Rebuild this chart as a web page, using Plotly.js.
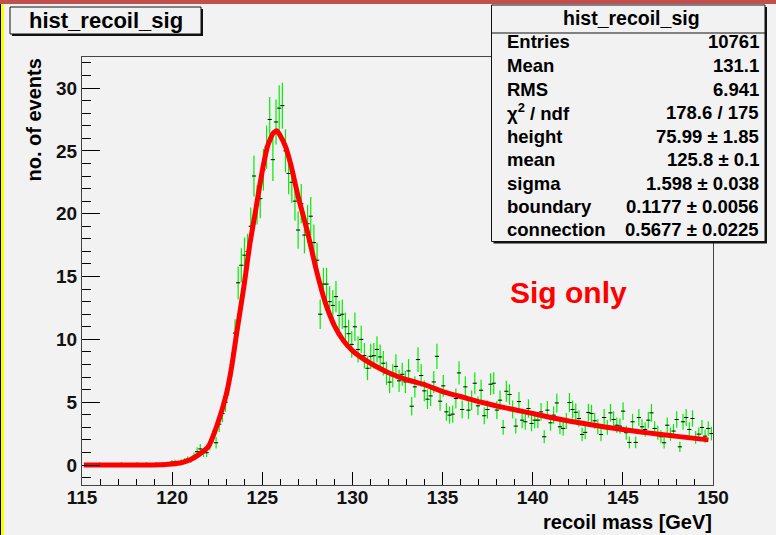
<!DOCTYPE html>
<html>
<head>
<meta charset="utf-8">
<script src="https://cdn.plot.ly/plotly-3.0.1.min.js"></script>
<style>
html,body{margin:0;padding:0;background:#f2f2f2;}
#chart{width:776px;height:535px;}
</style>
</head>
<body>
<div id="chart"></div>
<script>
// ---- histogram: 200 bins, 115..150 GeV ----
const histLow = 115;
const binWidth = 0.175;
const binContent = [
  null,null,null,null,null,0.12,null,null,null,null,
  null,null,0.12,null,null,null,null,0.12,null,null,
  0.12,null,null,0.12,null,0.12,null,0.12,0.23,0.24,
  0.12,0.26,0.35,0.47,0.37,0.7,1.06,1.28,0.98,0.98,
  1.6,2.25,1.77,3.25,4.1,5.0,6.4,8.0,10.5,14.5,
  15.9,16.7,17.0,19.0,23.0,20.7,21.2,23.5,25.3,27.5,
  24.3,27.3,28.4,28.6,25.0,23.2,22.5,21.0,18.7,20.8,
  18.3,19.2,19.8,17.7,16.3,12.0,14.4,14.4,13.0,12.7,
  13.4,11.9,12.0,11.0,10.45,9.6,11.0,9.2,10.0,8.7,
  7.7,8.65,8.7,9.2,8.6,8.1,7.3,6.6,7.1,7.85,
  6.7,7.22,6.61,7.49,4.68,6.22,8.39,7.12,5.90,5.24,
  5.50,6.61,8.65,5.08,6.30,4.23,3.97,4.05,5.29,7.33,
  4.42,6.22,4.37,5.16,6.51,4.71,5.95,3.92,4.42,6.43,
  6.51,4.37,5.16,2.99,5.87,5.61,4.42,3.10,5.05,3.57,
  3.44,4.50,3.31,3.57,3.57,4.23,2.25,4.37,3.36,3.97,
  4.94,3.04,2.91,3.5,4.97,4.42,4.2,3.7,2.43,2.6,
  4.18,4.10,3.52,3.04,2.43,3.78,3.0,4.15,3.62,3.17,
  3.1,4.29,2.57,1.80,3.44,1.80,3.78,3.04,2.83,3.57,
  4.15,2.91,2.57,2.25,1.77,3.17,2.46,2.7,3.62,1.45,
  3.44,3.78,2.83,3.70,2.2,2.46,2.99,2.30,2.91,2.5
];
const binError = [
  null,null,null,null,null,0.12,null,null,null,null,
  null,null,0.12,null,null,null,null,0.12,null,null,
  0.12,null,null,0.12,null,0.12,null,0.12,0.16,0.17,
  0.12,0.17,0.2,0.23,0.21,0.29,0.35,0.39,0.34,0.34,
  0.43,0.51,0.46,0.62,0.69,0.76,0.87,0.97,1.11,1.30,
  1.36,1.40,1.41,1.49,1.64,1.56,1.57,1.66,1.72,1.79,
  1.69,1.79,1.82,1.83,1.71,1.65,1.62,1.57,1.48,1.56,
  1.46,1.50,1.52,1.44,1.38,1.18,1.30,1.30,1.23,1.22,
  1.25,1.18,1.18,1.13,1.11,1.06,1.13,1.04,1.08,1.01,
  0.95,1.01,1.01,1.04,1.00,0.97,0.92,0.88,0.91,0.96,
  0.89,0.92,0.88,0.94,0.74,0.85,0.99,0.91,0.83,0.78,
  0.80,0.88,1.01,0.77,0.86,0.70,0.68,0.69,0.79,0.93,
  0.72,0.85,0.72,0.78,0.87,0.74,0.83,0.68,0.72,0.87,
  0.87,0.72,0.78,0.59,0.83,0.81,0.72,0.60,0.77,0.65,
  0.63,0.73,0.62,0.65,0.65,0.70,0.51,0.72,0.63,0.68,
  0.76,0.60,0.58,0.64,0.76,0.72,0.70,0.66,0.53,0.55,
  0.70,0.69,0.64,0.60,0.53,0.67,0.59,0.70,0.65,0.61,
  0.60,0.71,0.55,0.46,0.63,0.46,0.67,0.60,0.58,0.65,
  0.70,0.58,0.55,0.51,0.46,0.61,0.53,0.56,0.65,0.41,
  0.63,0.67,0.58,0.66,0.51,0.53,0.59,0.52,0.58,0.54
];

// ---- fit curve ----
const fitX = [115.1,116,117,118,119,119.5,120,120.5,121,121.5,122,122.5,123,123.3,123.6,124,124.3,124.6,125,125.3,125.6,125.8,126,126.3,126.6,127,127.5,128,128.5,129,129.5,130,130.5,131,132,133,134,135,136,137,138,139,140,141,142,143,144,145,146,147,148,149,149.75];
const fitY = [0,0,0,0,0.01,0.03,0.08,0.18,0.42,0.85,1.45,3.2,5.6,7.8,10.7,14.4,17.5,20.0,23.4,25.4,26.4,26.6,26.2,25.3,23.8,21.3,18.6,15.5,12.9,11.1,9.9,9.1,8.55,8.1,7.35,6.8,6.4,5.85,5.45,5.05,4.7,4.4,4.1,3.78,3.5,3.27,3.03,2.82,2.63,2.45,2.28,2.12,2.0];

// ---- text ----
const histName = "hist_recoil_sig";
const statLabels = ["Entries","Mean","RMS","χ<sup>2</sup> / ndf","height","mean","sigma","boundary","connection"];
const statValues = ["10761","131.1","6.941","178.6 / 175","75.99 ± 1.85","125.8 ± 0.1","1.598 ± 0.038","0.1177 ± 0.0056","0.5677 ± 0.0225"];
const xTickVals = [115,120,125,130,135,140,145,150];
const yTickVals = [0,5,10,15,20,25,30];
const xTitle = "recoil mass [GeV]";
const yTitle = "no. of events";
const noteText = "Sig only";

// ---- geometry helpers (pixel -> paper) ----
const L = 82, T = 57, PW = 631, PH = 428;
const X = px => (px - L) / PW;
const Y = py => (T + PH - py) / PH;
const FONT = "Liberation Sans, Arial, Helvetica, sans-serif";

const hx = [], hy = [], he = [];
binContent.forEach((v, i) => {
  if (v !== null) { hx.push(histLow + binWidth * (i + 0.5)); hy.push(v); he.push(binError[i]); }
});

const traces = [
  {
    type: "scatter", mode: "markers", x: hx, y: hy,
    error_y: { type: "data", array: he, visible: true, color: "#00ee00", thickness: 1.2, width: 0 },
    marker: { symbol: "line-ew", size: 3, color: "#000", line: { color: "#000", width: 1 } },
    hoverinfo: "skip"
  },
  {
    type: "scatter", mode: "lines", x: fitX, y: fitY,
    line: { color: "#ff0000", width: 5, shape: "spline", smoothing: 0.5 },
    hoverinfo: "skip"
  }
];

const shapes = [
  { type: "rect", xref: "paper", yref: "paper", x0: X(0), x1: X(4), y0: Y(535), y1: Y(0), fillcolor: "#ffff00", line: { width: 0 }, layer: "above" },
  { type: "rect", xref: "paper", yref: "paper", x0: X(0), x1: X(1), y0: Y(535), y1: Y(0), fillcolor: "#000", line: { width: 0 }, layer: "above" },
  { type: "rect", xref: "paper", yref: "paper", x0: X(0), x1: X(776), y0: Y(4), y1: Y(0), fillcolor: "#c0504d", line: { width: 0 }, layer: "above" },
  { type: "rect", xref: "paper", yref: "paper", x0: X(12), x1: X(203), y0: Y(36), y1: Y(9), fillcolor: "#111", line: { width: 0 }, layer: "above" },
  { type: "rect", xref: "paper", yref: "paper", x0: X(10), x1: X(201), y0: Y(34), y1: Y(7), fillcolor: "#f2f2f2", line: { color: "#111", width: 1 }, layer: "above" },
  { type: "rect", xref: "paper", yref: "paper", x0: X(493.5), x1: X(767), y0: Y(243.5), y1: Y(7), fillcolor: "#111", line: { width: 0 }, layer: "above" },
  { type: "rect", xref: "paper", yref: "paper", x0: X(491.5), x1: X(765), y0: Y(241.5), y1: Y(5), fillcolor: "#f2f2f2", line: { color: "#111", width: 1 }, layer: "above" },
  { type: "line", xref: "paper", yref: "paper", x0: X(491.5), x1: X(765), y0: Y(33), y1: Y(33), line: { color: "#111", width: 1 }, layer: "above" }
];

const annotations = [
  { text: "<b>" + histName + "</b>", xref: "paper", yref: "paper", x: X(105.5), y: Y(20.5), xanchor: "center", yanchor: "middle", showarrow: false, font: { family: FONT, size: 22, color: "#000" } },
  { text: "<b>" + histName + "</b>", xref: "paper", yref: "paper", x: X(631), y: Y(18), xanchor: "center", yanchor: "middle", showarrow: false, font: { family: FONT, size: 19.5, color: "#000" } },
  { text: "<b>" + yTitle + "</b>", xref: "paper", yref: "paper", x: X(33), y: Y(57), xanchor: "center", yanchor: "top", textangle: -90, showarrow: false, font: { family: FONT, size: 20, color: "#000" } },
  { text: "<b>" + xTitle + "</b>", xref: "paper", yref: "paper", x: X(714), y: Y(522), xanchor: "right", yanchor: "middle", showarrow: false, font: { family: FONT, size: 20, color: "#000" } },
  { text: "<b>" + noteText + "</b>", xref: "paper", yref: "paper", x: X(508), y: Y(292), xanchor: "left", yanchor: "middle", showarrow: false, font: { family: FONT, size: 30, color: "#ff0000" } }
];
statLabels.forEach((lab, k) => {
  const py = 42 + 23.5 * k;
  annotations.push({ text: "<b>" + lab + "</b>", xref: "paper", yref: "paper", x: X(505), y: Y(py), xanchor: "left", yanchor: "middle", showarrow: false, font: { family: FONT, size: 18.5, color: "#000" } });
  annotations.push({ text: "<b>" + statValues[k] + "</b>", xref: "paper", yref: "paper", x: X(761), y: Y(py), xanchor: "right", yanchor: "middle", showarrow: false, font: { family: FONT, size: 18.5, color: "#000" } });
});

const layout = {
  width: 776, height: 535, autosize: false,
  margin: { l: L, r: 776 - L - PW, t: T, b: 535 - T - PH, pad: 0 },
  paper_bgcolor: "#f2f2f2", plot_bgcolor: "#f2f2f2",
  showlegend: false,
  font: { family: FONT, color: "#000" },
  xaxis: {
    range: [115, 150], tickmode: "array", tickvals: xTickVals, ticktext: xTickVals.map(String),
    ticks: "inside", ticklen: 13, tickwidth: 1, tickcolor: "#000",
    minor: { dtick: 1, tick0: 115, ticks: "inside", ticklen: 6, tickwidth: 1, tickcolor: "#000", showgrid: false },
    showline: true, mirror: true, linecolor: "#444", linewidth: 1,
    showgrid: false, zeroline: false, ticklabelstandoff: -5,
    tickfont: { family: FONT, size: 19, color: "#111", weight: "bold" }
  },
  yaxis: {
    range: [-1.59, 32.47], tickmode: "array", tickvals: yTickVals, ticktext: yTickVals.map(String),
    ticks: "inside", ticklen: 18, tickwidth: 1, tickcolor: "#000",
    minor: { dtick: 1, tick0: 0, ticks: "inside", ticklen: 9, tickwidth: 1, tickcolor: "#000", showgrid: false },
    showline: true, mirror: true, linecolor: "#444", linewidth: 1,
    showgrid: false, zeroline: false,
    tickfont: { family: FONT, size: 19, color: "#111", weight: "bold" }
  },
  shapes: shapes,
  annotations: annotations
};

Plotly.newPlot("chart", traces, layout, { staticPlot: true, displayModeBar: false });
</script>
</body>
</html>
